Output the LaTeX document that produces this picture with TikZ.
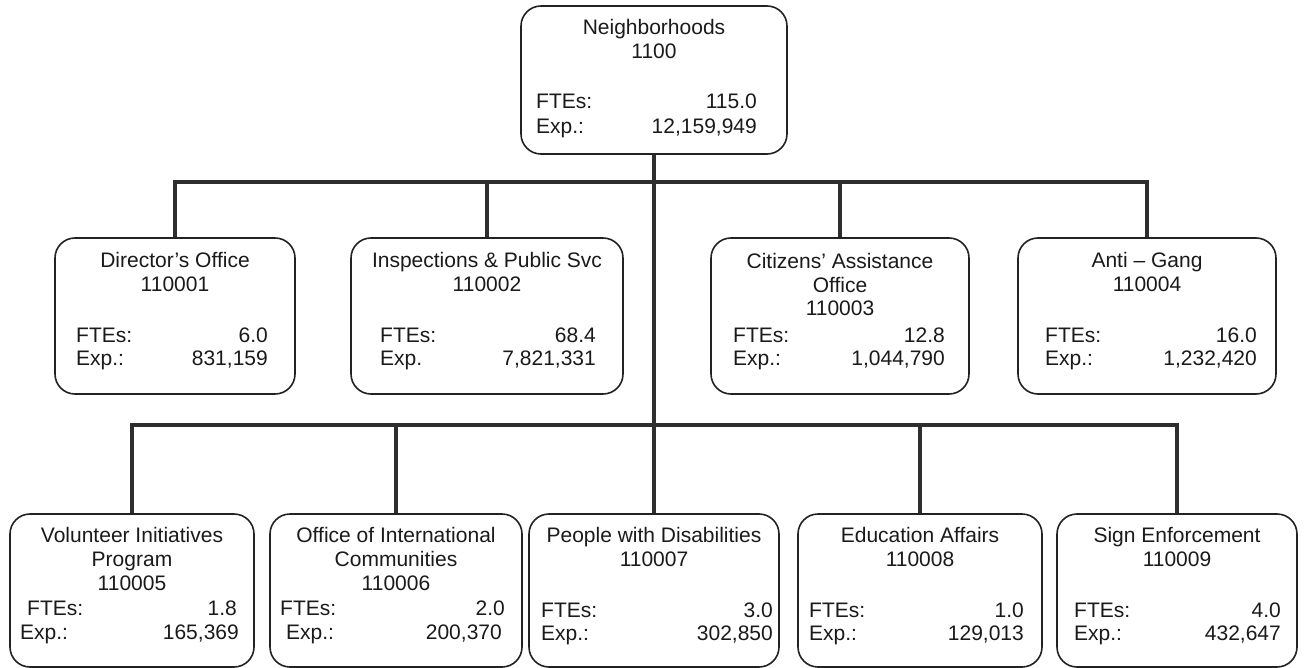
\documentclass[tikz,border=0pt]{standalone}
\usepackage{fontspec}
\setmainfont{Liberation Sans}
\definecolor{boxc}{HTML}{222222}
\definecolor{connc}{HTML}{2E2E2E}
\definecolor{txtc}{HTML}{1A1A1A}
\tikzset{
  box/.style={draw=boxc, line width=1.6pt, rounded corners=20pt, fill=white, inner sep=0pt},
  conn/.style={draw=connc, line width=3.5pt},
  txt/.style={inner sep=0pt, font=\fontsize{21}{24}\selectfont, text=txtc},
  ttl/.style={txt, anchor=base},
  lbl/.style={txt, anchor=base west},
  val/.style={txt, anchor=base east},
}
\begin{document}
\begin{tikzpicture}[x=1pt,y=-1pt]
\useasboundingbox[fill=white] (0,0) rectangle (1305,668);

% ---------- boxes ----------
\node[box, minimum width=266pt, minimum height=148pt] (top) at (654,80) {};

\node[box, minimum width=240pt, minimum height=156pt] (d) at (175,316) {};
\node[box, minimum width=272pt, minimum height=156pt] (i) at (487,316) {};
\node[box, minimum width=258pt, minimum height=156pt] (c) at (840,316) {};
\node[box, minimum width=258pt, minimum height=156pt] (a) at (1147,316) {};

\node[box, minimum width=244pt, minimum height=153pt] (v) at (132,590.5) {};
\node[box, minimum width=252pt, minimum height=153pt] (o) at (396,590.5) {};
\node[box, minimum width=250pt, minimum height=153pt] (p) at (654,590.5) {};
\node[box, minimum width=244pt, minimum height=153pt] (e) at (920,590.5) {};
\node[box, minimum width=240pt, minimum height=153pt] (s) at (1177,590.5) {};

% ---------- connectors ----------
\coordinate (j2) at (654,182);
\coordinate (j3) at (654,425);
\draw[conn] (top.south) -- (p.north);
\draw[conn] (d.north) -- (d.north |- j2) -- (a.north |- j2) -- (a.north);
\draw[conn] (i.north) -- (i.north |- j2);
\draw[conn] (c.north) -- (c.north |- j2);
\draw[conn] (v.north) -- (v.north |- j3) -- (s.north |- j3) -- (s.north);
\draw[conn] (o.north) -- (o.north |- j3);
\draw[conn] (e.north) -- (e.north |- j3);

% ---------- texts: top ----------
\node[ttl] (topt1) at (654,35) {Neighborhoods};
\node[ttl] (topt2) at (654,59) {1100};
\node[lbl] (topf) at (536,109) {FTEs:};
\node[val] (topfv) at (757,109) {115.0};
\node[lbl] (tope) at (536,134) {Exp.:};
\node[val] (topev) at (757,134) {12,159,949};

% ---------- level 2 ----------
\node[ttl] (dt1) at (175,267) {Director’s Office};
\node[ttl] (dt2) at (175,291) {110001};
\node[lbl] (df) at (76,342) {FTEs:};
\node[val] (dfv) at (268,342) {6.0};
\node[lbl] (de) at (76,365) {Exp.:};
\node[val] (dev) at (268,365) {831,159};

\node[ttl] (it1) at (487,267) {Inspections \& Public Svc};
\node[ttl] (it2) at (487,291) {110002};
\node[lbl] (if) at (380,342) {FTEs:};
\node[val] (ifv) at (596,342) {68.4};
\node[lbl] (ie) at (380,365) {Exp.};
\node[val] (iev) at (596,365) {7,821,331};

\node[ttl] (ct1) at (840,269) {Citizens’ Assistance};
\node[ttl] (ct2) at (840,292) {Office};
\node[ttl] (ct3) at (840,315) {110003};
\node[lbl] (cf) at (733,342) {FTEs:};
\node[val] (cfv) at (945,342) {12.8};
\node[lbl] (ce) at (733,365) {Exp.:};
\node[val] (cev) at (945,365) {1,044,790};

\node[ttl] (at1) at (1147,267) {Anti – Gang};
\node[ttl] (at2) at (1147,291) {110004};
\node[lbl] (af) at (1045,342) {FTEs:};
\node[val] (afv) at (1257,342) {16.0};
\node[lbl] (ae) at (1045,365) {Exp.:};
\node[val] (aev) at (1257,365) {1,232,420};

% ---------- level 3 ----------
\node[ttl] (vt1) at (132,542) {Volunteer Initiatives};
\node[ttl] (vt2) at (132,566) {Program};
\node[ttl] (vt3) at (132,590) {110005};
\node[lbl] (vf) at (27,615) {FTEs:};
\node[val] (vfv) at (237,615) {1.8};
\node[lbl] (ve) at (20,639) {Exp.:};
\node[val] (vev) at (239,639) {165,369};

\node[ttl] (ot1) at (396,542) {Office of International};
\node[ttl] (ot2) at (396,566) {Communities};
\node[ttl] (ot3) at (396,590) {110006};
\node[lbl] (of) at (280,615) {FTEs:};
\node[val] (ofv) at (505,615) {2.0};
\node[lbl] (oe) at (286,639) {Exp.:};
\node[val] (oev) at (502,639) {200,370};

\node[ttl] (pt1) at (654,542) {People with Disabilities};
\node[ttl] (pt2) at (654,566) {110007};
\node[lbl] (pf) at (541,617) {FTEs:};
\node[val] (pfv) at (773,617) {3.0};
\node[lbl] (pe) at (541,640) {Exp.:};
\node[val] (pev) at (773,640) {302,850};

\node[ttl] (et1) at (920,542) {Education Affairs};
\node[ttl] (et2) at (920,566) {110008};
\node[lbl] (ef) at (809,617) {FTEs:};
\node[val] (efv) at (1024,617) {1.0};
\node[lbl] (ee) at (809,640) {Exp.:};
\node[val] (eev) at (1024,640) {129,013};

\node[ttl] (st1) at (1177,542) {Sign Enforcement};
\node[ttl] (st2) at (1177,566) {110009};
\node[lbl] (sf) at (1074,617) {FTEs:};
\node[val] (sfv) at (1281,617) {4.0};
\node[lbl] (se) at (1074,640) {Exp.:};
\node[val] (sev) at (1281,640) {432,647};
\end{tikzpicture}
\end{document}
